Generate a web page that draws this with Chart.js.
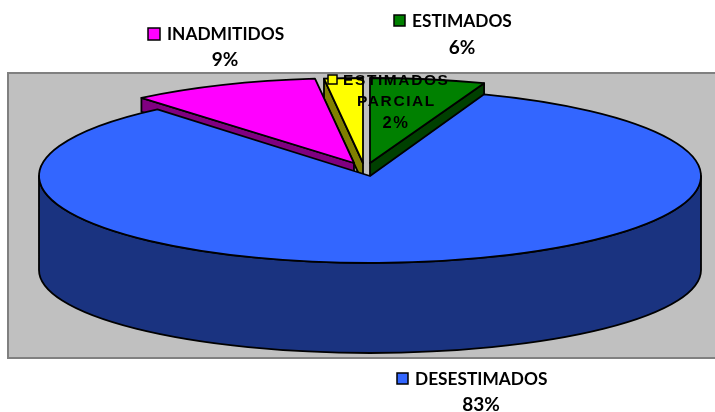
<!DOCTYPE html>
<html>
<head>
<meta charset="utf-8">
<style>html,body{margin:0;padding:0;background:#fff}#w{width:715px;height:412px;position:relative}</style>
<script src="https://cdn.jsdelivr.net/npm/chart.js@4"></script>
</head>
<body>
<div id="w"><canvas id="c" width="715" height="412"></canvas></div>
<script>
const categories = ['ESTIMADOS', 'DESESTIMADOS', 'INADMITIDOS', 'ESTIMADOS PARCIAL'];
const values = [5.6, 83.3, 9.22, 1.88];
const topColors = ['#008000', '#3366FF', '#FF00FF', '#FFFF00'];
const wallColors = ['#004000', '#1A3380', '#800080', '#808000'];

// Look of the tilted pie
const view = {cx: 370, cy: 176, rx: 331, depth: 94, ryBottom: 83};
const sliceRy = [85, 87, 85, 85];
const explodeX = [0, 0, -16, -7];
const explodeY = [-13, 0, -13, -13];
const wallDepth = [14, 94, 14, 20];
const paintOrder = [3, 2, 0, 1];
const plotBox = {l: 8, t: 73, r: 720, b: 358};

const labelStyle = [
  {key: [394, 15, 11], lines: [['ESTIMADOS', 412, 21]], pct: [462, 48], font: 'bold 17.3px Lato', pctFont: 'bold 19px Lato', ls: '0px'},
  {key: [397, 373, 11], lines: [['DESESTIMADOS', 415, 379]], pct: [481, 405], font: 'bold 17.3px Lato', pctFont: 'bold 19px Lato', ls: '0px'},
  {key: [148, 28, 12], lines: [['INADMITIDOS', 167, 34]], pct: [225, 60], font: 'bold 17.3px Lato', pctFont: 'bold 19px Lato', ls: '0px'},
  {key: [328, 75, 9], lines: [['ESTIMADOS', 343, 80.5], ['PARCIAL', 357, 102]], pct: [396, 123], font: 'bold 15.5px "Liberation Sans"', pctFont: 'bold 16.5px "Liberation Sans"', ls: '1.6px'}
];

const pie3d = {
  id: 'pie3d',
  beforeDraw(chart) {
    const ctx = chart.ctx;
    ctx.save();
    ctx.fillStyle = '#C0C0C0';
    ctx.strokeStyle = '#808080';
    ctx.lineWidth = 2;
    ctx.fillRect(plotBox.l, plotBox.t, plotBox.r - plotBox.l, plotBox.b - plotBox.t);
    ctx.strokeRect(plotBox.l, plotBox.t, plotBox.r - plotBox.l, plotBox.b - plotBox.t);
    ctx.restore();
  },
  beforeDatasetsDraw(chart) {
    const ctx = chart.ctx;
    const arcs = chart.getDatasetMeta(0).data;
    const v = view;
    paintOrder.forEach(i => {
      const a = arcs[i];
      const R = a.outerRadius;
      const ry = sliceRy[i];
      const k = ry / R;
      const ox = v.cx + explodeX[i], oy = v.cy + explodeY[i];
      const s = a.startAngle, e = a.endAngle;
      const px = t => ox + Math.cos(t) * R;
      const py = t => oy + Math.sin(t) * ry;
      ctx.save();
      ctx.lineJoin = 'round';
      ctx.strokeStyle = '#000';
      ctx.lineWidth = 1.8;
      ctx.fillStyle = wallColors[i];
      if (wallDepth[i] > 50) {
        // outer rim facing the viewer
        ctx.beginPath();
        ctx.ellipse(ox, oy, R, ry, 0, Math.PI, 0, true);
        ctx.ellipse(ox, oy + v.depth, R, v.ryBottom, 0, 0, Math.PI, false);
        ctx.closePath();
        ctx.fill();
        ctx.stroke();
      } else {
        // cut face of the slice
        const t = (i === 0) ? e : s;
        ctx.beginPath();
        ctx.moveTo(ox, oy);
        ctx.lineTo(px(t), py(t));
        ctx.lineTo(px(t), py(t) + wallDepth[i]);
        ctx.lineTo(ox, oy + wallDepth[i]);
        ctx.closePath();
        ctx.fill();
        ctx.stroke();
      }
      // the slice itself, drawn by Chart.js under the tilt
      ctx.save();
      ctx.translate(ox, oy);
      ctx.scale(1, k);
      ctx.translate(-a.x, -a.y);
      a.draw(ctx, chart.chartArea);
      ctx.beginPath();
      ctx.moveTo(a.x, a.y);
      ctx.arc(a.x, a.y, R, s, e);
      ctx.closePath();
      ctx.restore();
      ctx.stroke();
      ctx.restore();
    });
    return false;
  },
  afterDraw(chart) {
    const ctx = chart.ctx;
    ctx.save();
    ctx.textBaseline = 'middle';
    categories.forEach((c, i) => {
      const L = labelStyle[i];
      const [kx, ky, ks] = L.key;
      ctx.fillStyle = topColors[i];
      ctx.strokeStyle = '#000';
      ctx.lineWidth = 1.5;
      ctx.fillRect(kx, ky, ks, ks);
      ctx.strokeRect(kx, ky, ks, ks);
      ctx.fillStyle = '#000';
      ctx.font = L.font;
      ctx.letterSpacing = L.ls;
      ctx.textAlign = 'left';
      L.lines.forEach(([t, x, y]) => ctx.fillText(t, x, y));
      ctx.textAlign = 'center';
      ctx.font = L.pctFont;
      ctx.fillText(Math.round(values[i]) + '%', L.pct[0], L.pct[1]);
    });
    ctx.restore();
  }
};

new Chart(document.getElementById('c'), {
  type: 'pie',
  data: {
    labels: categories,
    datasets: [{data: values, backgroundColor: topColors, borderWidth: 0}]
  },
  options: {
    responsive: false,
    animation: false,
    radius: view.rx,
    plugins: {legend: {display: false}, tooltip: {enabled: false}}
  },
  plugins: [pie3d]
});
</script>
</body>
</html>
